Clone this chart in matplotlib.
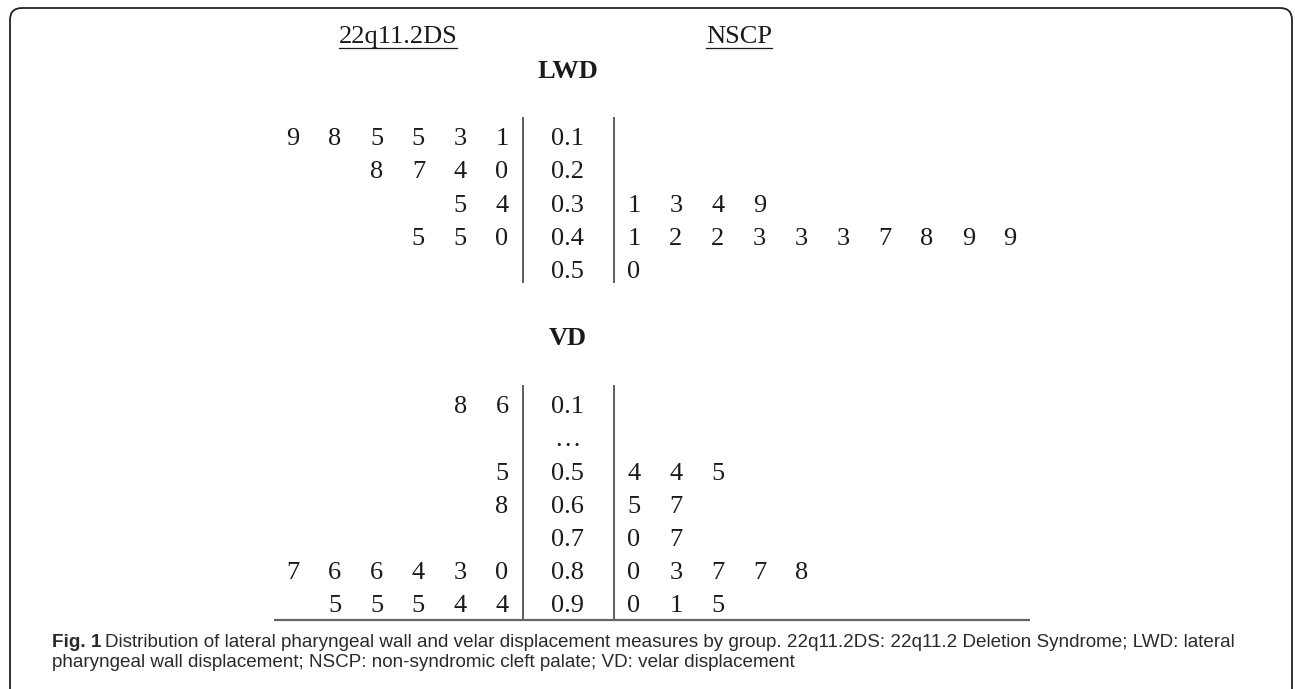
"""
Stem-and-leaf display of LWD and VD by group (22q11.2DS vs NSCP).
Output: out.png (1295x689)
"""
import matplotlib.pyplot as plt
from matplotlib import font_manager
from matplotlib.patches import FancyBboxPatch

W, H = 1295, 689

GROUPS = ["22q11.2DS", "NSCP"]

LWD_STEMS = ["0.1", "0.2", "0.3", "0.4", "0.5"]
LWD_DS = ["985531", "8740", "54", "550", ""]
LWD_NSCP = ["", "", "1349", "1223337899", "0"]

VD_STEMS = ["0.1", "\u2026", "0.5", "0.6", "0.7", "0.8", "0.9"]
VD_DS = ["86", "", "5", "8", "", "766430", "55544"]
VD_NSCP = ["", "", "445", "57", "07", "03778", "015"]

CAPTION_1 = ("Distribution of lateral pharyngeal wall and velar displacement measures by group. "
             "22q11.2DS: 22q11.2 Deletion Syndrome; LWD: lateral")
CAPTION_2 = "pharyngeal wall displacement; NSCP: non-syndromic cleft palate; VD: velar displacement"

SERIF = ["Liberation Serif", "DejaVu Serif"]
installed = {f.name for f in font_manager.fontManager.ttflist}
SANS = ["Liberation Sans Narrow"] if "Liberation Sans Narrow" in installed else ["Liberation Sans"]
FS = 19
INK = "#1a1a1a"

# layout (pixels)
BAR_L, BAR_R = 523, 614
STEM_X = 567
LEAF_L0, LEAF_R0, LEAF_DX = 502, 634, 41.8
ROW_DY = 33.25


def draw_block(ax, title, title_y, stems, left, right, y0, bar_top, bar_bottom):
    ax.text(STEM_X + 1, title_y, title, family=SERIF, fontsize=FS, fontweight="bold",
            ha="center", va="baseline", color=INK)
    for i, (stem, lv, rv) in enumerate(zip(stems, left, right)):
        y = y0 + i * ROW_DY
        ax.text(STEM_X, y, stem, family=SERIF, fontsize=FS, ha="center", va="baseline", color=INK)
        n = len(lv)
        for j, d in enumerate(lv):
            ax.text(LEAF_L0 - (n - 1 - j) * LEAF_DX, y, d, family=SERIF, fontsize=FS,
                    ha="center", va="baseline", color=INK)
        for j, d in enumerate(rv):
            ax.text(LEAF_R0 + j * LEAF_DX, y, d, family=SERIF, fontsize=FS,
                    ha="center", va="baseline", color=INK)
    for x in (BAR_L, BAR_R):
        ax.plot([x, x], [bar_top, bar_bottom], color="#333333", lw=1.1, solid_capstyle="butt")


def main():
    fig = plt.figure(figsize=(W / 100, H / 100), dpi=100)
    ax = fig.add_axes([0, 0, 1, 1])
    ax.set_xlim(0, W)
    ax.set_ylim(H, 0)
    ax.axis("off")

    # rounded frame, open at the bottom edge
    ax.add_patch(FancyBboxPatch((10, 8), 1282, 740, boxstyle="round,pad=0,rounding_size=12",
                                fill=False, ec="#222222", lw=1.3, clip_on=False))

    # underlined group headers
    fig.canvas.draw()
    r = fig.canvas.get_renderer()
    inv = ax.transData.inverted()
    for label, cx in zip(GROUPS, [398, 739]):
        t = ax.text(cx, 43, label, family=SERIF, fontsize=FS, ha="center", va="baseline", color=INK)
        bb = t.get_window_extent(renderer=r)
        x0 = inv.transform((bb.x0, 0))[0]
        x1 = inv.transform((bb.x1, 0))[0]
        ax.plot([x0, x1], [48, 48], color=INK, lw=0.9)

    draw_block(ax, "LWD", 78, LWD_STEMS, LWD_DS, LWD_NSCP, 145, 117, 283)
    draw_block(ax, "VD", 345, VD_STEMS, VD_DS, VD_NSCP, 413, 385, 620)
    ax.plot([274, 1030], [620, 620], color="#666666", lw=1.6, solid_capstyle="butt")

    # caption, sized to the width of the first line
    cap_fs = 13
    cap_ink = "#2a2a2a"
    t1 = ax.text(52, 647, "Fig. 1", family=SANS, fontsize=cap_fs, fontweight="bold",
                 ha="left", va="baseline", color=cap_ink)
    bb = t1.get_window_extent(renderer=r)
    t2 = ax.text(inv.transform((bb.x1, 0))[0] + 4, 647, CAPTION_1, family=SANS, fontsize=cap_fs,
                 ha="left", va="baseline", color=cap_ink)
    bb2 = t2.get_window_extent(renderer=r)
    cap_fs *= (1240 - 52) / (inv.transform((bb2.x1, 0))[0] - 52)
    t1.set_fontsize(cap_fs)
    bb = t1.get_window_extent(renderer=r)
    t2.set_fontsize(cap_fs)
    t2.set_x(inv.transform((bb.x1, 0))[0] + 4)
    ax.text(52, 667, CAPTION_2, family=SANS, fontsize=cap_fs, ha="left", va="baseline",
            color=cap_ink)

    fig.savefig("out.png", dpi=100, facecolor="white")
    plt.close(fig)


if __name__ == "__main__":
    main()
